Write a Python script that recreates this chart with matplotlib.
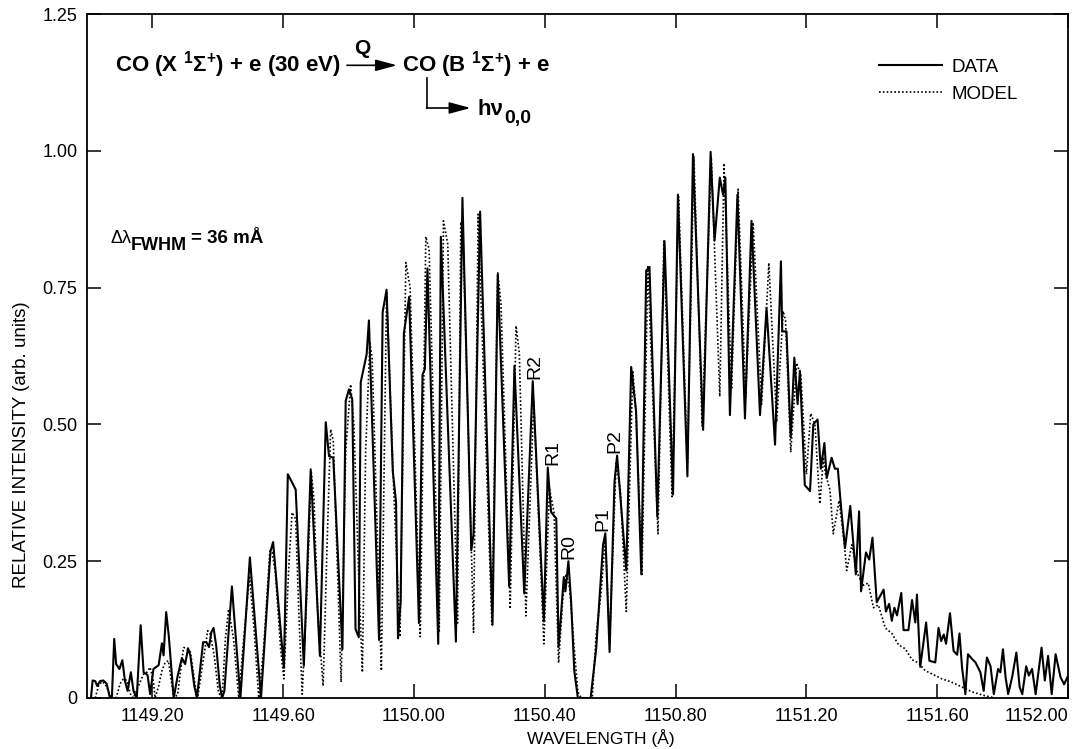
import matplotlib
matplotlib.use("Agg")
import matplotlib.pyplot as plt

plt.rcParams['font.family'] = ['Liberation Sans', 'DejaVu Sans']
plt.rcParams['mathtext.fontset'] = 'custom'
plt.rcParams['mathtext.rm'] = 'Liberation Sans'
plt.rcParams['mathtext.bf'] = 'Liberation Sans:bold'
plt.rcParams['mathtext.it'] = 'Liberation Sans:italic'

# measured CO B-X (0,0) band, relative intensity vs wavelength (A)
data_wl = [
    1149.012, 1149.017, 1149.025, 1149.031, 1149.040, 1149.050, 1149.060, 1149.070, 1149.076, 1149.083,
    1149.089, 1149.099, 1149.108, 1149.116, 1149.124, 1149.134, 1149.142, 1149.152, 1149.164, 1149.173,
    1149.185, 1149.193, 1149.203, 1149.219, 1149.229, 1149.234, 1149.242, 1149.250, 1149.265, 1149.277,
    1149.290, 1149.300, 1149.309, 1149.316, 1149.328, 1149.336, 1149.355, 1149.365, 1149.373, 1149.380,
    1149.387, 1149.395, 1149.406, 1149.413, 1149.420, 1149.443, 1149.469, 1149.498, 1149.532, 1149.561,
    1149.569, 1149.602, 1149.614, 1149.638, 1149.663, 1149.684, 1149.712, 1149.730, 1149.740, 1149.753,
    1149.781, 1149.791, 1149.801, 1149.811, 1149.821, 1149.831, 1149.837, 1149.855, 1149.862, 1149.893,
    1149.904, 1149.916, 1149.935, 1149.945, 1149.951, 1149.959, 1149.969, 1149.985, 1150.015, 1150.026,
    1150.033, 1150.041, 1150.074, 1150.082, 1150.128, 1150.148, 1150.175, 1150.182, 1150.202, 1150.240,
    1150.256, 1150.291, 1150.307, 1150.337, 1150.363, 1150.397, 1150.409, 1150.419, 1150.435, 1150.442,
    1150.458, 1150.463, 1150.472, 1150.480, 1150.490, 1150.501, 1150.540, 1150.557, 1150.578, 1150.585,
    1150.598, 1150.613, 1150.621, 1150.649, 1150.664, 1150.679, 1150.695, 1150.710, 1150.720, 1150.744,
    1150.766, 1150.792, 1150.807, 1150.836, 1150.853, 1150.884, 1150.907, 1150.919, 1150.935, 1150.945,
    1150.952, 1150.966, 1150.989, 1151.012, 1151.032, 1151.058, 1151.078, 1151.104, 1151.122, 1151.126,
    1151.139, 1151.152, 1151.163, 1151.173, 1151.180, 1151.195, 1151.211, 1151.221, 1151.234, 1151.244,
    1151.255, 1151.262, 1151.277, 1151.287, 1151.296, 1151.306, 1151.318, 1151.334, 1151.351, 1151.361,
    1151.367, 1151.382, 1151.392, 1151.402, 1151.415, 1151.436, 1151.443, 1151.453, 1151.461, 1151.469,
    1151.477, 1151.490, 1151.497, 1151.512, 1151.523, 1151.533, 1151.538, 1151.548, 1151.566, 1151.576,
    1151.594, 1151.604, 1151.612, 1151.620, 1151.627, 1151.639, 1151.650, 1151.661, 1151.668, 1151.676,
    1151.686, 1151.694, 1151.707, 1151.717, 1151.732, 1151.742, 1151.752, 1151.763, 1151.773, 1151.786,
    1151.793, 1151.801, 1151.809, 1151.817, 1151.829, 1151.842, 1151.852, 1151.860, 1151.872, 1151.880,
    1151.890, 1151.901, 1151.919, 1151.929, 1151.939, 1151.950, 1151.962, 1151.977, 1151.988, 1151.998,
]
data_int = [
    0.000, 0.032, 0.031, 0.022, 0.031, 0.032, 0.026, 0.000, 0.000, 0.108,
    0.062, 0.053, 0.069, 0.031, 0.013, 0.047, 0.013, 0.000, 0.133, 0.047,
    0.042, 0.007, 0.053, 0.060, 0.100, 0.078, 0.157, 0.113, 0.000, 0.040,
    0.073, 0.062, 0.091, 0.077, 0.022, 0.000, 0.102, 0.102, 0.093, 0.120,
    0.128, 0.095, 0.022, 0.000, 0.013, 0.204, 0.000, 0.257, 0.000, 0.268,
    0.285, 0.055, 0.409, 0.381, 0.059, 0.418, 0.077, 0.504, 0.442, 0.439,
    0.089, 0.543, 0.564, 0.546, 0.126, 0.111, 0.577, 0.628, 0.690, 0.106,
    0.705, 0.746, 0.414, 0.358, 0.109, 0.175, 0.667, 0.733, 0.137, 0.591,
    0.601, 0.785, 0.099, 0.843, 0.103, 0.914, 0.270, 0.300, 0.889, 0.134,
    0.774, 0.204, 0.607, 0.191, 0.579, 0.140, 0.421, 0.340, 0.328, 0.093,
    0.221, 0.195, 0.250, 0.180, 0.050, 0.000, 0.000, 0.090, 0.280, 0.301,
    0.084, 0.395, 0.443, 0.233, 0.605, 0.524, 0.226, 0.781, 0.788, 0.331,
    0.835, 0.372, 0.920, 0.405, 0.994, 0.490, 0.998, 0.836, 0.951, 0.920,
    0.951, 0.517, 0.920, 0.511, 0.872, 0.517, 0.713, 0.463, 0.798, 0.670,
    0.670, 0.476, 0.622, 0.537, 0.598, 0.389, 0.378, 0.500, 0.509, 0.419,
    0.466, 0.402, 0.439, 0.419, 0.419, 0.348, 0.274, 0.351, 0.226, 0.341,
    0.195, 0.266, 0.253, 0.293, 0.175, 0.198, 0.158, 0.172, 0.141, 0.165,
    0.151, 0.192, 0.124, 0.124, 0.179, 0.138, 0.189, 0.057, 0.138, 0.068,
    0.065, 0.128, 0.104, 0.116, 0.099, 0.155, 0.086, 0.079, 0.118, 0.055,
    0.007, 0.080, 0.071, 0.065, 0.047, 0.013, 0.074, 0.058, 0.007, 0.053,
    0.047, 0.089, 0.038, 0.007, 0.038, 0.083, 0.020, 0.007, 0.058, 0.041,
    0.053, 0.007, 0.092, 0.032, 0.077, 0.007, 0.080, 0.038, 0.025, 0.038,
]

# synthetic band (model), same units
model_wl = [
    1149.025, 1149.035, 1149.045, 1149.055, 1149.065, 1149.073, 1149.089, 1149.101, 1149.111, 1149.122,
    1149.132, 1149.142, 1149.157, 1149.173, 1149.183, 1149.193, 1149.203, 1149.208, 1149.219, 1149.229,
    1149.239, 1149.249, 1149.260, 1149.265, 1149.277, 1149.295, 1149.303, 1149.316, 1149.331, 1149.338,
    1149.356, 1149.369, 1149.377, 1149.389, 1149.402, 1149.413, 1149.423, 1149.433, 1149.448, 1149.464,
    1149.479, 1149.497, 1149.510, 1149.525, 1149.540, 1149.559, 1149.566, 1149.576, 1149.592, 1149.602,
    1149.617, 1149.627, 1149.638, 1149.648, 1149.658, 1149.673, 1149.686, 1149.694, 1149.706, 1149.722,
    1149.735, 1149.745, 1149.753, 1149.765, 1149.777, 1149.791, 1149.806, 1149.816, 1149.832, 1149.842,
    1149.852, 1149.865, 1149.872, 1149.900, 1149.916, 1149.939, 1149.957, 1149.975, 1149.988, 1150.019,
    1150.036, 1150.046, 1150.077, 1150.090, 1150.103, 1150.133, 1150.143, 1150.150, 1150.182, 1150.196,
    1150.238, 1150.256, 1150.266, 1150.294, 1150.312, 1150.322, 1150.342, 1150.366, 1150.397, 1150.414,
    1150.428, 1150.442, 1150.455, 1150.465, 1150.476, 1150.491, 1150.501, 1150.511, 1150.545, 1150.557,
    1150.572, 1150.585, 1150.598, 1150.618, 1150.631, 1150.649, 1150.669, 1150.679, 1150.697, 1150.715,
    1150.746, 1150.764, 1150.789, 1150.809, 1150.836, 1150.856, 1150.881, 1150.909, 1150.935, 1150.948,
    1150.971, 1150.991, 1151.014, 1151.037, 1151.063, 1151.085, 1151.109, 1151.129, 1151.136, 1151.152,
    1151.170, 1151.183, 1151.200, 1151.213, 1151.226, 1151.241, 1151.252, 1151.258, 1151.272, 1151.282,
    1151.300, 1151.316, 1151.323, 1151.339, 1151.357, 1151.374, 1151.389, 1151.405, 1151.420, 1151.441,
    1151.461, 1151.482, 1151.502, 1151.523, 1151.543, 1151.563, 1151.584, 1151.614, 1151.640, 1151.676,
    1151.707, 1151.747, 1151.777,
]
model_int = [
    0.000, 0.022, 0.030, 0.026, 0.013, 0.000, 0.000, 0.026, 0.035, 0.032,
    0.008, 0.000, 0.022, 0.044, 0.047, 0.056, 0.030, 0.000, 0.022, 0.050,
    0.065, 0.068, 0.022, 0.000, 0.006, 0.092, 0.092, 0.084, 0.022, 0.000,
    0.071, 0.123, 0.117, 0.077, 0.010, 0.000, 0.108, 0.162, 0.108, 0.000,
    0.108, 0.223, 0.132, 0.000, 0.090, 0.269, 0.266, 0.229, 0.090, 0.035,
    0.241, 0.339, 0.327, 0.150, 0.007, 0.200, 0.412, 0.363, 0.150, 0.022,
    0.300, 0.491, 0.470, 0.250, 0.029, 0.450, 0.573, 0.500, 0.200, 0.047,
    0.450, 0.650, 0.620, 0.050, 0.743, 0.364, 0.112, 0.796, 0.750, 0.112,
    0.843, 0.820, 0.120, 0.872, 0.830, 0.137, 0.870, 0.840, 0.120, 0.884,
    0.134, 0.777, 0.720, 0.163, 0.680, 0.630, 0.150, 0.541, 0.099, 0.383,
    0.340, 0.064, 0.181, 0.227, 0.200, 0.083, 0.011, 0.000, 0.000, 0.116,
    0.192, 0.294, 0.104, 0.429, 0.380, 0.158, 0.598, 0.520, 0.226, 0.788,
    0.300, 0.835, 0.368, 0.916, 0.429, 0.990, 0.497, 0.988, 0.551, 0.977,
    0.564, 0.930, 0.551, 0.869, 0.537, 0.795, 0.504, 0.707, 0.690, 0.449,
    0.612, 0.590, 0.409, 0.520, 0.500, 0.355, 0.440, 0.410, 0.380, 0.300,
    0.361, 0.280, 0.233, 0.280, 0.226, 0.206, 0.210, 0.165, 0.170, 0.128,
    0.118, 0.097, 0.090, 0.070, 0.064, 0.050, 0.044, 0.035, 0.030, 0.020,
    0.011, 0.004, 0.000,
]

# rotational line labels and the peaks they sit on
line_names = ['R2', 'R1', 'R0', 'P1', 'P2']
line_wl = [1150.363, 1150.409, 1150.472, 1150.585, 1150.621]
line_int = [0.579, 0.421, 0.250, 0.301, 0.443]
label_dx = [0.008, 0.015, 0.0, -0.006, -0.006]

x_ticks = [1149.20, 1149.60, 1150.00, 1150.40, 1150.80, 1151.20, 1151.60, 1152.00]
y_ticks = [0, 0.25, 0.50, 0.75, 1.00, 1.25]
y_ticklabels = ['0', '0.25', '0.50', '0.75', '1.00', '1.25']

fig = plt.figure(figsize=(10.72, 7.49), dpi=100)
ax = fig.add_axes([0.0812, 0.0681, 0.9151, 0.9132])

ax.plot(data_wl, data_int, color='black', lw=1.5, label='DATA', zorder=3)
ax.plot(model_wl, model_int, color='black', lw=1.2, linestyle=(0, (1, 1.3)),
        label='MODEL', zorder=2)

ax.set_xlim(1149.0, 1152.0)
ax.set_ylim(0, 1.25)
ax.set_xticks(x_ticks)
ax.set_xticklabels(['%.2f' % t for t in x_ticks])
ax.get_xticklabels()[-1].set_ha('right')
ax.set_yticks(y_ticks)
ax.set_yticklabels(y_ticklabels)
ax.tick_params(direction='in', length=10, width=1.1, labelsize=13,
               top=True, right=True, pad=7)
for sp in ax.spines.values():
    sp.set_linewidth(1.3)

ax.set_xlabel('WAVELENGTH (Å)', fontsize=12.5)
ax.xaxis.set_label_coords(0.524, -0.045)
ax.set_ylabel('RELATIVE INTENSITY (arb. units)', fontsize=13.5)
ax.yaxis.set_label_coords(-0.058, 0.37)

# line identifications, rotated, sitting on each peak
for name, wl, it, dx in zip(line_names, line_wl, line_int, label_dx):
    ax.text(wl + dx, it + 0.004, name, rotation=90, fontsize=14,
            ha='center', va='bottom')

# excitation scheme
arrow = dict(arrowstyle='-|>,head_length=1.3,head_width=0.35',
             color='black', lw=1.2, shrinkA=0, shrinkB=0)
ax.text(0.028, 0.916, r'CO (X $^{\mathbf{1}}\mathbf{\Sigma}^{\mathbf{+}}$) + e (30 eV)',
        transform=ax.transAxes, fontsize=16, fontweight='bold', va='baseline')
ax.annotate('', xy=(0.316, 0.925), xytext=(0.265, 0.925), xycoords='axes fraction',
            arrowprops=arrow)
ax.text(0.281, 0.950, 'Q', transform=ax.transAxes, fontsize=15,
        fontweight='bold', ha='center', va='center')
ax.text(0.321, 0.916, r'CO (B $^{\mathbf{1}}\mathbf{\Sigma}^{\mathbf{+}}$) + e',
        transform=ax.transAxes, fontsize=16, fontweight='bold', va='baseline')
ax.plot([0.347, 0.347], [0.907, 0.8626], color='black', lw=1.2,
        transform=ax.transAxes, clip_on=False)
ax.annotate('', xy=(0.391, 0.8626), xytext=(0.346, 0.8626), xycoords='axes fraction',
            arrowprops=arrow)
t_hnu = ax.text(0.3976, 0.8523, 'hν', transform=ax.transAxes,
                fontsize=16, fontweight='bold', va='baseline')
ax.annotate('0,0', xy=(1, 0), xycoords=t_hnu, xytext=(1, -5),
            textcoords='offset points', fontsize=14, fontweight='bold',
            va='bottom')

# instrumental resolution
t_dl = ax.text(0.0234, 0.665, 'Δλ', transform=ax.transAxes, fontsize=13,
               va='baseline')
t_fw = ax.annotate('FWHM', xy=(1, 0), xycoords=t_dl, xytext=(0, -5),
                   textcoords='offset points', fontsize=13,
                   fontweight='bold', va='bottom')
ax.annotate('= 36 mÅ', xy=(1, 0), xycoords=t_fw, xytext=(3, 5),
            textcoords='offset points', fontsize=13.5, fontweight='bold',
            va='bottom')

ax.legend(loc='upper left', bbox_to_anchor=(0.807, 0.935), frameon=False,
          fontsize=13.5, handlelength=3.4, handletextpad=0.5,
          labelspacing=0.55, borderaxespad=0, borderpad=0)

fig.savefig('out.png', dpi=100)
